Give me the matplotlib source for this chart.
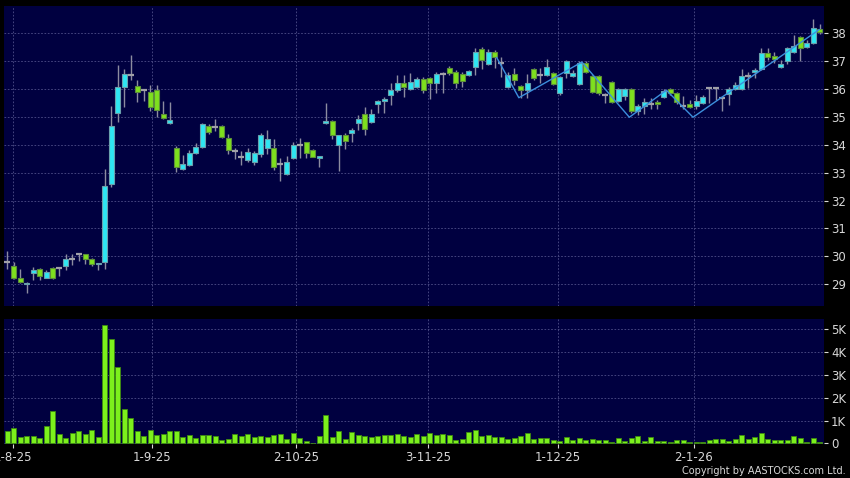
import numpy as np
import matplotlib
matplotlib.use("Agg")
import matplotlib.pyplot as plt

# daily OHLC, one entry per trading day
opens = [29.80, 29.67, 29.23, 29.00, 29.42, 29.54, 29.23, 29.60, 29.57, 29.66,
         29.92, 30.07, 30.07, 29.89, 29.72, 29.79, 32.59, 35.13, 36.07, 36.50,
         36.10, 35.95, 35.91, 35.97, 35.11, 34.77, 33.89, 33.15, 33.29, 33.69,
         33.91, 34.69, 34.63, 34.66, 34.24, 33.79, 33.56, 33.47, 33.40, 33.67,
         33.90, 33.88, 33.32, 32.95, 33.52, 33.98, 34.09, 33.81, 33.53, 34.77,
         34.84, 33.98, 34.35, 34.42, 34.78, 35.09, 34.81, 35.48, 35.57, 35.80,
         35.95, 36.21, 36.00, 36.09, 36.35, 36.38, 36.21, 36.54, 36.75, 36.63,
         36.54, 36.50, 36.81, 37.44, 36.90, 37.34, 36.95, 36.07, 36.53, 36.11,
         35.97, 36.71, 36.50, 36.51, 36.57, 35.85, 36.59, 36.47, 36.19, 36.95,
         36.47, 36.47, 35.79, 36.27, 35.56, 35.76, 36.00, 35.20, 35.40, 35.45,
         35.55, 35.71, 36.00, 35.86, 35.40, 35.47, 35.40, 35.50, 36.03, 36.03,
         35.67, 35.82, 36.00, 36.00, 36.47, 36.63, 36.71, 37.29, 37.17, 36.81,
         37.01, 37.34, 37.86, 37.50, 37.64, 38.14]
highs = [30.18, 29.79, 29.55, 29.08, 29.62, 29.58, 29.50, 29.63, 29.58, 30.07,
         30.07, 30.10, 30.09, 29.95, 29.78, 33.14, 35.40, 36.88, 36.73, 37.24,
         36.31, 35.97, 36.13, 36.13, 35.59, 35.53, 33.95, 33.62, 33.80, 34.05,
         34.78, 34.75, 34.93, 34.72, 34.38, 33.88, 33.79, 33.88, 33.79, 34.42,
         34.54, 34.20, 33.53, 33.61, 34.09, 34.26, 34.12, 33.85, 33.61, 35.50,
         34.90, 34.36, 34.42, 34.60, 35.07, 35.35, 35.27, 35.61, 35.71, 36.21,
         36.51, 36.51, 36.57, 36.45, 36.42, 36.45, 36.63, 36.63, 36.83, 36.69,
         36.63, 36.69, 37.46, 37.52, 37.43, 37.40, 37.14, 36.63, 36.75, 36.15,
         36.54, 36.75, 36.75, 37.07, 36.63, 36.47, 37.05, 36.69, 36.99, 36.99,
         36.51, 36.51, 35.85, 36.30, 36.04, 36.04, 36.04, 35.47, 35.67, 35.67,
         35.60, 36.00, 36.04, 35.88, 35.74, 35.62, 35.80, 35.80, 36.07, 36.07,
         35.73, 36.07, 36.24, 36.71, 36.63, 36.75, 37.49, 37.49, 37.34, 37.05,
         37.52, 37.93, 37.90, 37.76, 38.50, 38.33]
lows = [29.53, 29.20, 29.05, 28.70, 29.14, 29.14, 29.21, 29.20, 29.28, 29.50,
        29.70, 29.82, 29.72, 29.66, 29.52, 29.55, 32.50, 34.81, 35.37, 36.31,
        35.53, 35.57, 35.23, 34.99, 34.93, 34.73, 33.03, 33.09, 33.24, 33.66,
        33.90, 34.38, 34.51, 34.24, 33.68, 33.49, 33.26, 33.37, 33.28, 33.58,
        33.67, 33.08, 32.69, 32.93, 33.49, 33.52, 33.52, 33.56, 33.19, 34.73,
        34.21, 33.07, 33.86, 34.10, 34.54, 34.37, 34.78, 35.13, 35.16, 35.44,
        35.91, 35.71, 35.97, 36.05, 35.85, 35.63, 35.87, 35.87, 36.51, 36.03,
        36.06, 36.48, 36.51, 36.71, 36.87, 36.74, 36.42, 36.03, 36.13, 35.67,
        35.67, 36.33, 36.21, 36.48, 36.15, 35.79, 36.39, 36.42, 36.15, 36.57,
        35.87, 35.79, 35.51, 35.51, 35.52, 35.60, 35.14, 35.08, 35.10, 35.27,
        35.30, 35.67, 35.80, 35.47, 35.27, 35.32, 35.27, 35.47, 35.50, 35.62,
        35.21, 35.44, 35.97, 35.97, 36.03, 36.39, 36.69, 37.04, 36.93, 36.75,
        36.89, 37.28, 37.00, 37.46, 37.62, 37.96]
closes = [29.80, 29.23, 29.07, 29.06, 29.51, 29.29, 29.44, 29.24, 29.57, 29.92,
          29.92, 30.07, 29.89, 29.72, 29.76, 32.51, 34.69, 36.09, 36.53, 36.50,
          35.89, 35.95, 35.35, 35.26, 34.97, 34.90, 33.19, 33.31, 33.71, 33.91,
          34.75, 34.45, 34.63, 34.28, 33.80, 33.79, 33.56, 33.73, 33.70, 34.34,
          34.20, 33.20, 33.32, 33.37, 33.98, 33.98, 33.70, 33.58, 33.60, 34.85,
          34.34, 34.34, 34.13, 34.53, 34.92, 34.56, 35.12, 35.57, 35.64, 35.97,
          36.21, 36.09, 36.27, 36.35, 35.95, 36.21, 36.54, 36.54, 36.57, 36.21,
          36.29, 36.66, 37.32, 37.05, 37.34, 37.16, 36.95, 36.51, 36.33, 35.97,
          36.21, 36.39, 36.50, 36.78, 36.19, 36.42, 36.99, 36.59, 36.95, 36.63,
          35.91, 35.85, 35.79, 35.55, 36.00, 36.00, 35.20, 35.38, 35.52, 35.45,
          35.45, 35.92, 35.86, 35.52, 35.40, 35.36, 35.59, 35.71, 36.03, 36.03,
          35.67, 36.00, 36.15, 36.47, 36.47, 36.69, 37.29, 37.16, 37.07, 36.89,
          37.46, 37.56, 37.46, 37.64, 38.18, 38.06]
# volume in thousands
volumes = [0.54, 0.69, 0.29, 0.34, 0.31, 0.23, 0.76, 1.43, 0.39, 0.23,
           0.44, 0.53, 0.42, 0.58, 0.29, 5.17, 4.57, 3.33, 1.52, 1.12,
           0.53, 0.34, 0.57, 0.36, 0.39, 0.53, 0.53, 0.28, 0.35, 0.23,
           0.35, 0.36, 0.32, 0.15, 0.20, 0.41, 0.32, 0.41, 0.26, 0.34,
           0.29, 0.38, 0.41, 0.18, 0.45, 0.23, 0.09, 0.03, 0.32, 1.23,
           0.29, 0.54, 0.20, 0.48, 0.38, 0.32, 0.26, 0.34, 0.38, 0.36,
           0.41, 0.31, 0.28, 0.42, 0.34, 0.45, 0.36, 0.41, 0.36, 0.15,
           0.19, 0.51, 0.57, 0.34, 0.36, 0.28, 0.29, 0.19, 0.25, 0.31,
           0.45, 0.20, 0.22, 0.23, 0.16, 0.10, 0.28, 0.13, 0.22, 0.15,
           0.19, 0.16, 0.13, 0.06, 0.25, 0.12, 0.25, 0.32, 0.10, 0.26,
           0.12, 0.12, 0.06, 0.13, 0.15, 0.06, 0.07, 0.06, 0.13, 0.19,
           0.20, 0.10, 0.18, 0.35, 0.18, 0.28, 0.47, 0.19, 0.16, 0.16,
           0.15, 0.32, 0.22, 0.06, 0.25, 0.04]

# zigzag overlay (day index, price)
zz_x = [75.3, 78.7, 88.4, 95.7, 101.4, 105.5, 124.9]
zz_y = [37.13, 35.69, 36.97, 34.99, 35.96, 34.99, 38.13]

date_pos = [0.9, 22.2, 44.4, 64.7, 84.7, 105.6]
date_labels = ["1-8-25", "1-9-25", "2-10-25", "3-11-25", "1-12-25", "2-1-26"]
price_ticks = [29, 30, 31, 32, 33, 34, 35, 36, 37, 38]
vol_ticks = [0, 1, 2, 3, 4, 5]
vol_labels = ["0", "1K", "2K", "3K", "4K", "5K"]

BG = "#000040"
GRID = "#50508a"
TXT = "#d8d8d8"
UP = "#2ee6f2"
DOWN = "#7ee01e"
WICK = "#8c8ca0"

o = np.array(opens)
h = np.array(highs)
l = np.array(lows)
c = np.array(closes)
x = np.arange(len(o))

fig = plt.figure(figsize=(8.5, 4.78), dpi=100, facecolor="black")
ax = fig.add_axes([4 / 850, 1 - 306 / 478, 820 / 850, 300 / 478])
axv = fig.add_axes([4 / 850, 1 - 444 / 478, 820 / 850, 125 / 478])

for a in (ax, axv):
    a.set_facecolor(BG)
    for s in a.spines.values():
        s.set_visible(False)
    a.set_xlim(-0.51, 125.65)
    a.set_xticks(date_pos)
    a.yaxis.tick_right()
    a.tick_params(colors=TXT, labelsize=8.5, length=3, width=0.8, pad=2)
    a.grid(True, color=GRID, linestyle=(0, (2, 2)), linewidth=0.6)
    a.set_axisbelow(True)

# price panel
ax.set_ylim(28.22, 38.98)
ax.set_yticks(price_ticks)
ax.set_xticklabels([])
ax.tick_params(axis="x", length=0)

ax.vlines(x, l, h, color=WICK, linewidth=1, zorder=2)
doji = np.abs(c - o) < 0.01
up = (c > o) & ~doji
dn = (c < o) & ~doji
ax.bar(x[up], (c - o)[up], bottom=o[up], width=0.8, color=UP,
       edgecolor="#6aa0ac", linewidth=0.8, zorder=3)
ax.bar(x[dn], (o - c)[dn], bottom=c[dn], width=0.8, color=DOWN,
       edgecolor="#5c8e3a", linewidth=0.8, zorder=3)
ax.hlines(c[doji], x[doji] - 0.45, x[doji] + 0.45, color="#a0a0a8",
          linewidth=1.6, zorder=3)
ax.plot(zz_x, zz_y, color="#3c8fdc", linewidth=1, zorder=4)

# volume panel
axv.set_ylim(-0.03, 5.45)
axv.set_yticks(vol_ticks)
axv.set_yticklabels(vol_labels)
axv.set_xticklabels(date_labels)
axv.bar(x, volumes, width=0.82, color="#7cf01c", edgecolor="#3d8a10",
        linewidth=0.6, zorder=3)

fig.text(846 / 850, 1 - 471 / 478, "Copyright by AASTOCKS.com Ltd.",
         color=TXT, fontsize=7, ha="right", va="center")

fig.savefig("out.png", dpi=100, facecolor="black")
